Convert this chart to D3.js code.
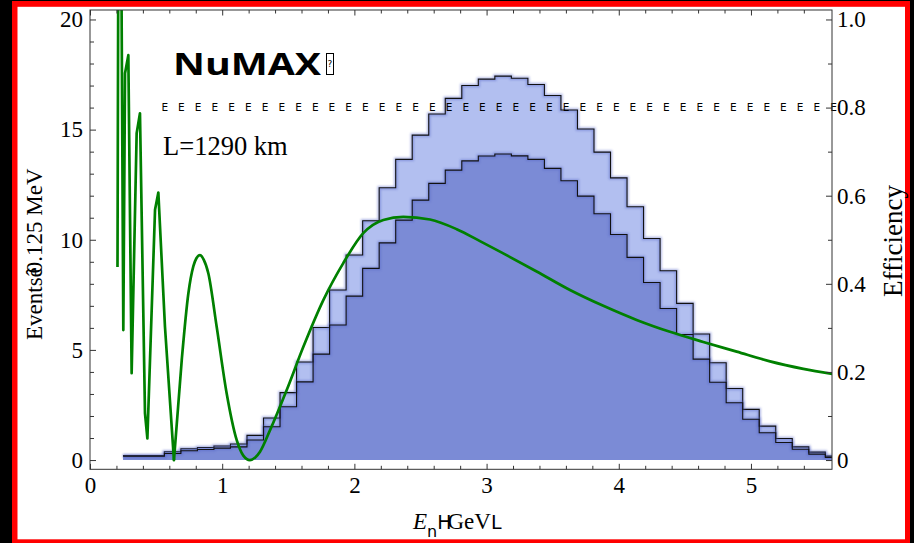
<!DOCTYPE html>
<html>
<head>
<meta charset="utf-8">
<script src="https://cdn.jsdelivr.net/npm/d3@7"></script>
<style>
  body { margin: 0; background: #000; }
  svg { display: block; }
  .serif { font-family: "Liberation Serif", "Times New Roman", serif; fill: #000; }
  .sans { font-family: "DejaVu Sans", "Liberation Sans", sans-serif; fill: #000; }
</style>
</head>
<body>
<svg id="chart" width="914" height="543"></svg>
<script>
// bin centres (GeV), event counts per bin
const binCenters = [0.25, 0.375, 0.5, 0.625, 0.75, 0.875, 1.0, 1.125, 1.25, 1.375, 1.5, 1.625, 1.75, 1.875,
  2.0, 2.125, 2.25, 2.375, 2.5, 2.625, 2.75, 2.875, 3.0, 3.125, 3.25, 3.375, 3.5, 3.625, 3.75, 3.875,
  4.0, 4.125, 4.25, 4.375, 4.5, 4.625, 4.75, 4.875, 5.0, 5.125, 5.25, 5.375, 5.5, 5.625];
const lightCounts = [0.2, 0.2, 0.2, 0.38, 0.51, 0.57, 0.64, 0.73, 1.12, 1.91, 3.06, 4.45, 6.02, 7.72,
  9.31, 10.86, 12.36, 13.65, 14.75, 15.71, 16.42, 17.0, 17.29, 17.43, 17.33, 17.05, 16.55, 15.89, 15.03, 13.98,
  12.81, 11.5, 10.06, 8.59, 7.11, 5.72, 4.42, 3.25, 2.3, 1.54, 0.98, 0.6, 0.36, 0.18];
const darkCounts = [0.17, 0.17, 0.17, 0.3, 0.42, 0.48, 0.54, 0.6, 0.91, 1.51, 2.42, 3.55, 4.81, 6.13,
  7.44, 8.7, 9.86, 10.89, 11.8, 12.56, 13.16, 13.58, 13.8, 13.89, 13.81, 13.65, 13.24, 12.68, 11.98, 11.18,
  10.24, 9.2, 8.06, 6.88, 5.7, 4.58, 3.53, 2.6, 1.85, 1.24, 0.8, 0.49, 0.27, 0.12];

// green curve, right-hand (0..1) units; the low-energy part is coarsely sampled
const curveE = [0.208, 0.2215, 0.252, 0.265, 0.29, 0.315, 0.353, 0.378, 0.416, 0.434, 0.492, 0.517, 0.567,
  0.635, 0.694, 0.744, 0.782, 0.805, 0.832, 0.86, 0.895, 0.958, 1.034, 1.11, 1.16, 1.21, 1.25, 1.286, 1.362,
  1.488, 1.614, 1.765, 1.916, 2.067, 2.219, 2.37, 2.572, 2.774, 2.95, 3.126, 3.379, 3.631, 3.883,
  4.135, 4.387, 4.639, 4.892, 5.144, 5.396, 5.623];
const curveV = [0.438, 2.0, 0.295, 0.878, 0.919, 0.197, 0.742, 0.787, 0.106, 0.049, 0.568, 0.607, 0.303,
  0.0, 0.227, 0.378, 0.44, 0.458, 0.465, 0.455, 0.424, 0.303, 0.151, 0.045, 0.01, 0.0, 0.006, 0.019, 0.068,
  0.159, 0.257, 0.363, 0.447, 0.515, 0.545, 0.552, 0.546, 0.524, 0.497, 0.469, 0.428, 0.386, 0.35,
  0.318, 0.291, 0.268, 0.246, 0.224, 0.207, 0.195];
const coarseUntil = 0.635;

const xTicks = [0, 1, 2, 3, 4, 5];
const xMinor = [0.2, 0.4, 0.6, 0.8, 1.2, 1.4, 1.6, 1.8, 2.2, 2.4, 2.6, 2.8, 3.2, 3.4, 3.6, 3.8, 4.2, 4.4, 4.6, 4.8, 5.2, 5.4];
const yTicks = [0, 5, 10, 15, 20];
const yMinor = [1, 2, 3, 4, 6, 7, 8, 9, 11, 12, 13, 14, 16, 17, 18, 19];
const effTicks = [0, 0.2, 0.4, 0.6, 0.8, 1.0];
const effMinor = [0.1, 0.3, 0.5, 0.7, 0.9];
const effLevel = 0.8;
const effDashRange = [0.54, 5.6];
const effDashCount = 41;

const svg = d3.select("#chart");
const plotL = 90, plotR = 832, plotT = 10, plotB = 469.3;

const x = d3.scaleLinear().domain([0, 5.613]).range([plotL, plotR]);
const y = d3.scaleLinear().domain([-0.42, 20.43]).range([plotB, plotT]);
const yEff = d3.scaleLinear().domain([-0.021, 1.0215]).range([plotB, plotT]);

// page frame
svg.append("rect").attr("width", 914).attr("height", 543).attr("fill", "#000");
svg.append("rect").attr("x", 12).attr("y", 1).attr("width", 898).attr("height", 545).attr("fill", "#f00");
svg.append("rect").attr("x", 17.5).attr("y", 6.8).attr("width", 887.5).attr("height", 532.5).attr("fill", "#fff");

const defs = svg.append("defs");
defs.append("clipPath").attr("id", "plot-clip")
  .append("rect").attr("x", plotL).attr("y", plotT).attr("width", plotR - plotL).attr("height", plotB - plotT);
defs.append("filter").attr("id", "soft").attr("x", "-5%").attr("y", "-5%").attr("width", "110%").attr("height", "110%")
  .append("feGaussianBlur").attr("stdDeviation", 1.3);

const plot = svg.append("g").attr("clip-path", "url(#plot-clip)");

const light = binCenters.map((e, i) => ({ e: e, v: lightCounts[i] }));
const dark = binCenters.map((e, i) => ({ e: e, v: darkCounts[i] }));

const area = d3.area().curve(d3.curveStep)
  .x(d => x(d.e)).y0(y(0)).y1(d => y(d.v));
const line = d3.line().curve(d3.curveStep)
  .x(d => x(d.e)).y(d => y(d.v));

plot.append("path").attr("d", area(light)).attr("fill", "#b2bff0");
plot.append("path").attr("d", area(dark)).attr("fill", "#7b8bd6");

[light, dark].forEach(series => {
  plot.append("path").attr("d", line(series)).attr("fill", "none")
    .attr("stroke", "#5565c8").attr("stroke-width", 3.5).attr("opacity", 0.45).attr("filter", "url(#soft)");
  plot.append("path").attr("d", line(series)).attr("fill", "none")
    .attr("stroke", "#111").attr("stroke-width", 1.1);
});

// efficiency level drawn as a row of E glyphs
const dashX = d3.scaleLinear().domain([0, effDashCount - 1]).range(effDashRange.map(x));
svg.append("g").selectAll("text")
  .data(d3.range(effDashCount))
  .enter()
  .append("text")
  .attr("class", "sans")
  .attr("x", i => dashX(i))
  .attr("y", yEff(effLevel) + 3.8)
  .attr("font-size", 10.5)
  .text("E");

const prob = curveE.map((e, i) => ({ e: e, v: curveV[i] }));
const coarse = prob.filter(d => d.e <= coarseUntil);
const smooth = prob.filter(d => d.e >= coarseUntil);
const probLine = d3.line().x(d => x(d.e)).y(d => yEff(d.v));
plot.append("path").attr("d", probLine(coarse)).attr("fill", "none")
  .attr("stroke", "#008000").attr("stroke-width", 2.7).attr("stroke-linejoin", "round");
plot.append("path").attr("d", probLine.curve(d3.curveMonotoneX)(smooth)).attr("fill", "none")
  .attr("stroke", "#008000").attr("stroke-width", 2.7).attr("stroke-linecap", "round");

// axes, ticks pointing inwards
function styleAxis(g) {
  g.select(".domain").remove();
  g.selectAll(".tick line").attr("stroke", "#333");
  g.selectAll("text").attr("class", "serif").attr("font-size", 23).attr("fill", "#000");
}

svg.append("g").attr("transform", `translate(0,${plotB})`)
  .call(d3.axisBottom(x).tickValues(xTicks).tickSize(-5.5).tickPadding(7).tickFormat(d3.format("d")))
  .call(styleAxis);
svg.append("g").attr("transform", `translate(0,${plotB})`)
  .call(d3.axisBottom(x).tickValues(xMinor).tickSize(-3.5).tickFormat(""))
  .call(styleAxis);
svg.append("g").attr("transform", `translate(0,${plotT})`)
  .call(d3.axisTop(x).tickValues(xTicks).tickSize(-5.5).tickFormat(""))
  .call(styleAxis);
svg.append("g").attr("transform", `translate(0,${plotT})`)
  .call(d3.axisTop(x).tickValues(xMinor).tickSize(-3.5).tickFormat(""))
  .call(styleAxis);

svg.append("g").attr("transform", `translate(${plotL},0)`)
  .call(d3.axisLeft(y).tickValues(yTicks).tickSize(-6).tickPadding(7).tickFormat(d3.format("d")))
  .call(styleAxis);
svg.append("g").attr("transform", `translate(${plotL},0)`)
  .call(d3.axisLeft(y).tickValues(yMinor).tickSize(-4).tickFormat(""))
  .call(styleAxis);

svg.append("g").attr("transform", `translate(${plotR},0)`)
  .call(d3.axisRight(yEff).tickValues(effTicks).tickSize(-6).tickPadding(5)
    .tickFormat(d => d === 0 ? "0" : d.toFixed(1)))
  .call(styleAxis);
svg.append("g").attr("transform", `translate(${plotR},0)`)
  .call(d3.axisRight(yEff).tickValues(effMinor).tickSize(-4).tickFormat(""))
  .call(styleAxis);

// frame
svg.append("rect").attr("x", plotL).attr("y", plotT).attr("width", plotR - plotL).attr("height", plotB - plotT)
  .attr("fill", "none").attr("stroke", "#333").attr("stroke-width", 1);

// labels
const title = svg.append("g");
title.append("text").attr("x", 173).attr("y", 75)
  .attr("font-family", "'Open Sans', 'DejaVu Sans', sans-serif")
  .attr("font-size", 31).attr("font-weight", "bold")
  .attr("textLength", 148).attr("lengthAdjust", "spacingAndGlyphs")
  .text("NuMAX");
title.append("rect").attr("x", 326.5).attr("y", 53.5).attr("width", 7).attr("height", 21)
  .attr("fill", "none").attr("stroke", "#000").attr("stroke-width", 1);
title.append("text").attr("class", "sans").attr("x", 330).attr("y", 67).attr("text-anchor", "middle")
  .attr("font-size", 9).text("?");

svg.append("text").attr("class", "serif").attr("x", 163).attr("y", 155)
  .attr("font-size", 26.5).text("L=1290 km");

const yLabel = svg.append("text").attr("class", "serif").attr("font-size", 23)
  .attr("transform", "translate(41.5,340) rotate(-90)");
yLabel.append("tspan").text("Events");
yLabel.append("tspan").text("ê");
yLabel.append("tspan").attr("dx", -6).text("0.125 MeV");

svg.append("text").attr("class", "serif").attr("font-size", 27)
  .attr("transform", "translate(902,241) rotate(-90)").attr("text-anchor", "middle")
  .text("Efficiency");

const xLabel = svg.append("text").attr("class", "serif").attr("x", 413).attr("y", 528.5).attr("font-size", 23);
xLabel.append("tspan").attr("font-style", "italic").text("E");
xLabel.append("tspan").attr("class", "sans").attr("font-size", 16).attr("dy", 8).text("n");
xLabel.append("tspan").attr("class", "sans").attr("font-size", 19).attr("dy", -8).text("H");
xLabel.append("tspan").attr("dx", -4).text("GeV");
xLabel.append("tspan").attr("class", "sans").attr("font-size", 19).text("L");
</script>
</body>
</html>
